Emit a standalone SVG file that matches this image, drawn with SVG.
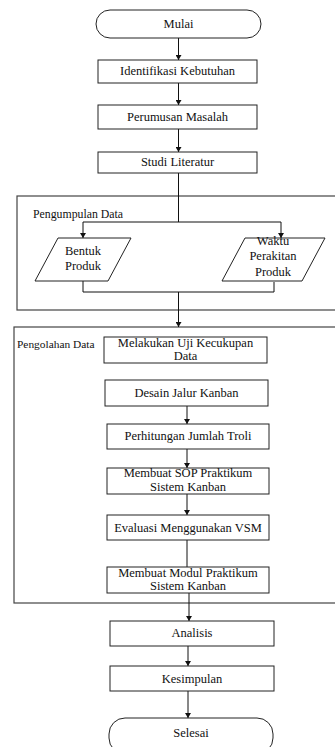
<svg xmlns="http://www.w3.org/2000/svg" width="335" height="747" viewBox="0 0 335 747" font-family="'Liberation Serif', 'Times New Roman', Times, serif" font-size="12.5">
<defs>
<marker id="ah" markerWidth="6" markerHeight="6" refX="5" refY="3" orient="auto" markerUnits="userSpaceOnUse">
<path d="M0,0 L5,3 L0,6 Z" fill="#111"/>
</marker>
</defs>
<style>
.b{fill:#fff;stroke:#222;stroke-width:1}
.g{fill:none;stroke:#444;stroke-width:1.2}
.c{fill:none;stroke:#111;stroke-width:1}
text{font-family:'Liberation Serif','Times New Roman',Times,serif;font-size:12.5px;fill:#111}
.m{text-anchor:middle}
</style>
<rect width="335" height="747" fill="#fff"/>
<g id="group-pengumpulan"><rect class="g" x="17" y="196" width="330" height="114"/><text x="33" y="218" style="font-size:11.8px">Pengumpulan Data</text></g>
<g id="group-pengolahan"><rect class="g" x="14" y="327" width="335" height="276"/><text x="17" y="348" style="font-size:11.4px">Pengolahan Data</text></g>
<g id="connectors">
<path class="c" d="M178.5,38 V60" marker-end="url(#ah)"/>
<path class="c" d="M178.5,83 V105" marker-end="url(#ah)"/>
<path class="c" d="M178.5,129 V152" marker-end="url(#ah)"/>
<path class="c" d="M178.5,173 V222 M83,222 H281"/>
<path class="c" d="M83,222 V238" marker-end="url(#ah)"/>
<path class="c" d="M281,222 V238" marker-end="url(#ah)"/>
<path class="c" d="M83,281 V292 H274 V282"/>
<path class="c" d="M178.5,292 V327" marker-end="url(#ah)"/>
<path class="c" d="M187,395 V424" marker-end="url(#ah)"/>
<path class="c" d="M187,449 V468" marker-end="url(#ah)"/>
<path class="c" d="M187,494 V515" marker-end="url(#ah)"/>
<path class="c" d="M187,540 V567"/>
<path class="c" d="M189,589 V621" marker-end="url(#ah)"/>
<path class="c" d="M188,646 V666" marker-end="url(#ah)"/>
<path class="c" d="M188,691 V718" marker-end="url(#ah)"/>
</g>
<g id="mulai"><rect class="b" x="96" y="10" width="165" height="28" rx="14"/><text class="m" x="178.5" y="28">Mulai</text></g>
<g id="identifikasi"><rect class="b" x="98" y="60" width="159" height="23"/><text class="m" x="177.5" y="75">Identifikasi Kebutuhan</text></g>
<g id="perumusan"><rect class="b" x="98" y="105" width="159" height="24"/><text class="m" x="177.5" y="121">Perumusan Masalah</text></g>
<g id="studi"><rect class="b" x="98" y="152" width="159" height="21"/><text class="m" x="177.5" y="166">Studi Literatur</text></g>
<g id="bentuk"><polygon class="b" points="58,238 131,238 108,281 35,281"/><text class="m" x="83" y="255">Bentuk</text><text class="m" x="83" y="270">Produk</text></g>
<g id="waktu"><polygon class="b" points="245,238 325,238 302,281 222,281"/><text class="m" x="273" y="245">Waktu</text><text class="m" x="273" y="260">Perakitan</text><text class="m" x="273" y="276">Produk</text></g>
<g id="uji"><rect class="b" x="104" y="337" width="163" height="26"/><text class="m" x="185.5" y="347">Melakukan Uji Kecukupan</text><text class="m" x="185.5" y="360">Data</text></g>
<g id="desain"><rect class="b" x="105" y="380" width="163" height="26"/><text class="m" x="186.5" y="397">Desain Jalur Kanban</text></g>
<g id="troli"><rect class="b" x="107" y="424" width="162" height="25"/><text class="m" x="188" y="440">Perhitungan Jumlah Troli</text></g>
<g id="sop"><rect class="b" x="107" y="468" width="162" height="26"/><text class="m" x="188" y="477">Membuat SOP Praktikum</text><text class="m" x="188" y="491">Sistem Kanban</text></g>
<g id="vsm"><rect class="b" x="107" y="515" width="162" height="25"/><text class="m" x="188" y="532">Evaluasi Menggunakan VSM</text></g>
<g id="modul"><rect class="b" x="107" y="567" width="162" height="26"/><text class="m" x="188" y="577">Membuat Modul Praktikum</text><text class="m" x="188" y="590">Sistem Kanban</text></g>
<g id="analisis"><rect class="b" x="110" y="621" width="164" height="25"/><text class="m" x="192" y="637">Analisis</text></g>
<g id="kesimpulan"><rect class="b" x="110" y="666" width="164" height="25"/><text class="m" x="192" y="683">Kesimpulan</text></g>
<g id="selesai"><rect class="b" x="109" y="718" width="164" height="36" rx="16"/><text class="m" x="191" y="737">Selesai</text></g>
</svg>
